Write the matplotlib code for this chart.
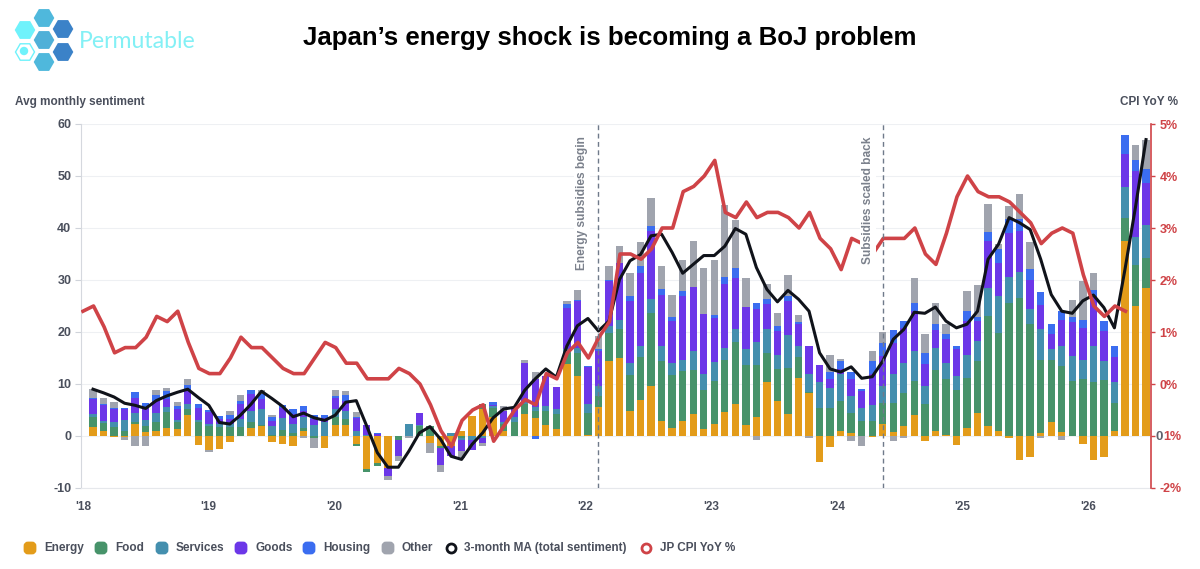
from __future__ import annotations

import matplotlib

matplotlib.use("Agg")

import matplotlib.pyplot as plt
import numpy as np
from matplotlib.patches import FancyBboxPatch, RegularPolygon


FIG_W, FIG_H = 1200, 569
AX_LEFT, AX_RIGHT, AX_TOP, AX_BOTTOM = 81, 1151, 124, 488

year_labels = ["'18", "'19", "'20", "'21", "'22", "'23", "'24", "'25", "'26"]
left_ticks = [-10, 0, 10, 20, 30, 40, 50, 60]
right_ticks = [-2, -1, 0, 1, 2, 3, 4, 5]

energy = [1.7, 1.0, -0.2, -0.2, 2.4, 0.7, 1.0, 1.6, 1.4, 4.0, -1.7, -2.6, -2.5, -1.1, 0, 1.6, 1.9,
          -1.1, -1.5, -1.9, 1.0, 0, -2.3, 2.1, 2.2, -1.6, -6.3, -5.2, -6.1, 0, 0, 0, -1.4, -2.0,
          -2.0, 1.0, 3.9, 5.2, 3.7, 1.0, 0, 4.2, 3.5, 2.1, 1.4, 13.8, 11.5, 0.2, 5.6, 14.4, 15.0,
          4.8, 7.0, 9.6, 2.8, 1.6, 2.9, 4.2, 1.3, 2.4, 4.6, 6.2, 2.2, 3.7, 10.3, 6.7, 4.2, 11.1,
          8.3, -5.0, -2.2, 1.0, 0.5, 0, -0.2, 2.4, 0.8, 2.0, 4.0, -1.0, 1.0, 0.2, -1.8, 1.6, 4.5,
          2.0, 1.0, -0.4, -4.6, -4.0, 0.6, 2.6, 0.8, 0, -1.6, -4.7, -4.0, 1.0, 37.5, 25.0, 28.5]
food = [1.9, 1.5, 1.7, 1.0, 0.2, 1.2, 1.6, 3.0, 1.2, 1.2, 2.6, 1.9, 1.7, 1.8, 1.8, 1.1, 0.2,
        0.1, 1.2, 0.6, 0.6, -0.4, 0, 1.6, 1.0, -0.4, -0.7, -0.5, 0, -0.8, 0, 1.9, 1.9, -0.3,
        0, -0.3, 0, 1.0, 1.6, 1.3, 2.6, 1.9, 1.3, 2.7, 2.8, 2.2, 4.4, 4.3, 2.1, 5.5, 5.5,
        6.9, 8.2, 14.1, 11.6, 10.1, 9.6, 8.5, 7.5, 8.2, 10.1, 11.9, 11.4, 9.9, 5.6, 6.2, 8.9, 4.0,
        0.1, 5.3, 5.3, 5.7, 4.0, 2.9, 2.9, 4.0, 5.6, 6.2, 6.6, 6.2, 11.6, 10.7, 8.8, 9.6, 9.9,
        21.0, 18.9, 25.6, 26.6, 21.5, 14.1, 12.1, 12.7, 10.6, 10.9, 10.4, 10.8, 5.4, 4.5, 7.8, 5.8]
services = [0.6, 0.4, 0.9, 2.1, 1.9, 1.2, 1.9, 0.9, 0.5, 0.9, 0.5, 0.5, 0.6, 0.5, 1.4, 2.1, 3.1,
            1.8, 2.3, 1.7, 2.1, 2.1, 2.6, 1.5, 1.6, 1.0, 0.1, 0, 0, 0, 2.4, 0.3, 0, 0,
            0.6, -0.4, -0.8, -0.4, 0.4, 0.3, 1.1, 0.4, 0.7, 1.0, 1.0, 0.7, 1.1, 1.6, 1.9, 1.3, 1.9,
            2.4, 2.1, 2.7, 2.9, 2.4, 2.2, 3.6, 3.2, 3.6, 2.2, 2.4, 3.1, 4.5, 4.6, 2.6, 6.3, 2.3,
            3.6, 5.0, 4.0, 5.2, 3.2, 2.5, 3.1, 3.2, 5.6, 5.9, 5.7, 3.4, 4.4, 3.2, 2.7, 4.4, 3.9,
            5.5, 7.0, 5.0, 5.0, 3.0, 5.9, 2.1, 3.8, 4.8, 3.7, 7.0, 3.6, 4.0, 5.8, 5.5, 6.3]
goods = [2.9, 3.0, 2.6, 2.1, 2.9, 2.2, 2.3, 1.7, 2.1, 2.8, 2.3, 2.3, 0.9, 0.9, 2.9, 3.3, 1.9,
         1.0, 1.9, 1.9, 1.1, 1.1, 0.8, 2.1, 2.0, 2.5, 2.1, 0.4, -1.6, -3.1, 0, 2.2, 0, -3.3,
         -1.9, -2.2, -1.8, -0.9, 0.3, 2.2, 1.5, 7.5, 5.5, 5.8, 4.2, 8.0, 9.0, 7.2, 6.7, 8.6, 10.9,
         11.9, 14.0, 13.0, 9.9, 8.0, 12.2, 12.4, 11.5, 8.4, 12.3, 9.8, 8.1, 6.3, 4.8, 4.7, 6.6, 4.2,
         5.4, 3.3, 1.7, 1.0, 3.2, 3.3, 5.9, 5.8, 5.9, 6.6, 7.7, 4.2, 3.3, 4.6, 5.2, 6.5, 3.8,
         9.0, 6.3, 8.4, 7.8, 5.5, 4.5, 2.9, 5.0, 6.5, 6.2, 9.5, 5.8, 4.8, 6.4, 12.7, 8.0]
housing = [0.2, 0.2, 0.2, 0.2, 1.0, 1.1, 1.1, 1.5, 0.5, 0.9, 0.8, 0.3, 0.7, 0.8, 0.7, 0.7, 1.0,
           0.8, 0.5, 1.0, 0.9, 0.9, 0.6, 0.4, 1.0, 0.2, 0, 0.2, 0, 0, 0, 0, 0, 0,
           0, 0, 0, 0, 0.6, 0, 0, 0, -0.6, 0, 0, 0.6, 0.2, 0.2, 0.5, 0.2, 0,
           1.0, 1.4, 0.9, 1.0, 0.7, 0.9, 0, 0, 0.6, 1.4, 2.1, 0.1, 1.2, 1.1, 1.0, 0.9, 0.3,
           0, 0, 1.3, 1.5, 1.4, 0.3, 2.5, 2.5, 2.4, 1.4, 1.6, 2.2, 1.2, 0.9, 0.6, 1.9, 0.8,
           1.8, 2.7, 2.7, 2.3, 2.2, 2.5, 1.9, 1.7, 0.9, 1.6, 1.2, 2.0, 2.1, 3.6, 2.0, 2.7]
other = [1.7, 1.2, 1.2, -0.5, -1.9, -2.0, 0.9, 0.5, 0.9, 1.2, 0, -0.4, 0, 0.8, 1.1, 0, 0.8,
         0.4, 0, 0, -0.3, -2.0, 0, 1.1, 0.8, 0.9, 0, 0, -0.8, -0.9, -0.4, 0, -1.8, -1.4,
         0, -1.3, 0, -0.6, 0, 0.9, 0.3, 0.6, 1.3, 0, 0, 0.7, 1.8, 0, 2.4, 2.7, 3.2,
         4.4, 4.7, 5.5, 4.5, 4.4, 6.0, 8.8, 8.9, 10.6, 13.8, 9.1, 5.4, -0.8, 2.8, 2.4, 4.1, 1.4,
         -0.4, 0, 3.2, 0.5, -1.0, -1.9, 1.9, 2.1, -1.0, -0.4, 4.7, 3.7, 4.1, 2.0, 0, 3.9, 6.1,
         5.4, 1.0, 2.5, 4.8, 5.2, -0.3, 0, -0.8, 3.3, 7.4, 3.2, 0, 0, 0, 3.0, 5.7]
ma_3m = [9.0, 8.3, 7.5, 6.3, 5.9, 5.3, 6.8, 7.7, 8.4, 9.0, 7.4, 5.9, 2.6, 2.3, 4.0, 6.1, 8.6,
         7.2, 5.7, 3.7, 4.4, 3.5, 3.0, 4.0, 6.5, 6.8, 1.9, -3.2, -6.0, -6.0, -2.9, 0.6, 1.8, -0.6,
         -3.9, -4.5, -1.6, 0.6, 3.5, 5.2, 5.5, 8.8, 11.0, 12.9, 11.3, 17.3, 21.2, 22.6, 20.2, 22.1, 30.1,
         33.7, 34.9, 38.5, 38.8, 35.3, 31.3, 33.0, 34.7, 34.7, 36.5, 39.9, 38.8, 32.4, 28.2, 25.8, 28.0, 26.3,
         24.0, 16.0, 12.9, 12.3, 13.3, 11.1, 11.4, 14.4, 18.6, 20.5, 23.8, 23.6, 24.8, 22.1, 20.8, 21.5, 24.0,
         34.0, 36.9, 42.0, 41.0, 39.7, 34.0, 27.2, 24.0, 23.6, 26.0, 27.1, 24.7, 20.8, 32.0, 44.0, 57.0]
jp_cpi = [1.4, 1.5, 1.1, 0.6, 0.7, 0.7, 0.9, 1.3, 1.2, 1.4, 0.8, 0.3, 0.2, 0.2, 0.5, 0.9, 0.7,
          0.7, 0.5, 0.3, 0.2, 0.2, 0.5, 0.8, 0.7, 0.4, 0.4, 0.1, 0.1, 0.1, 0.3, 0.2, 0.0, -0.4,
          -0.9, -1.2, -0.7, -0.5, -0.4, -1.1, -0.8, -0.5, -0.3, -0.4, 0.2, 0.1, 0.6, 0.8, 0.5, 0.9, 1.2,
          2.5, 2.5, 2.4, 2.6, 3.0, 3.0, 3.7, 3.8, 4.0, 4.3, 3.3, 3.2, 3.5, 3.2, 3.3, 3.3, 3.2,
          3.0, 3.3, 2.8, 2.6, 2.2, 2.8, 2.7, 2.5, 2.8, 2.8, 2.8, 3.0, 2.5, 2.3, 2.9, 3.6, 4.0,
          3.7, 3.6, 3.6, 3.5, 3.3, 3.1, 2.7, 2.9, 3.0, 2.9, 2.1, 1.5, 1.3, 1.5, 1.4]

COLORS = {
    "Energy": "#e39c1a",
    "Food": "#47936a",
    "Services": "#448fae",
    "Goods": "#6c37e8",
    "Housing": "#3b6df0",
    "Other": "#a0a4ae",
}
RED = "#cf4347"
SLATE = "#4a4f5c"
TEXT_FONT = ["Liberation Sans", "DejaVu Sans"]


def add_header(overlay) -> None:
    hexes = [
        (44, 18, "#4fb8dc"), (25, 30, "#6ff2fb"), (63, 29, "#3b82c8"), (44, 40, "#4fb0d8"),
        (63, 52, "#3b82c8"), (44, 62, "#4fb8dc"),
    ]
    for x, y, colour in hexes:
        overlay.add_patch(RegularPolygon((x, y), 6, radius=10.3, orientation=np.pi / 6,
                                         facecolor=colour, edgecolor="none"))
    overlay.add_patch(RegularPolygon((25, 52), 6, radius=9.5, orientation=np.pi / 6,
                                     facecolor="white", edgecolor="#6ff2fb", linewidth=1))
    overlay.add_patch(plt.Circle((24, 51), 3.5, color="#6ff2fb"))
    overlay.text(79, 41, "Permutable", fontsize=16.6, color="#83f0f5", family="Lato",
                 ha="left", va="center")
    overlay.text(610, 38, "Japan\u2019s energy shock is becoming a BoJ problem", fontsize=18.65,
                 fontweight="bold", family=TEXT_FONT, ha="center", va="center", color="black")
    overlay.text(15, 102, "Avg monthly sentiment", fontsize=8.5, fontweight="bold", color=SLATE,
                 family=TEXT_FONT, ha="left", va="center")
    overlay.text(1178, 102, "CPI YoY %", fontsize=8.5, fontweight="bold", color=SLATE,
                 family=TEXT_FONT, ha="right", va="center")
    # the source has a stray grey 0 where the minus of -1% should be
    overlay.text(1155, 436.5, "0", fontsize=9.5, fontweight="bold", color="#5d626e",
                 family=TEXT_FONT, ha="left", va="center")
    overlay.text(1163, 436.5, "1%", fontsize=9, fontweight="bold", color=RED,
                 family=TEXT_FONT, ha="left", va="center")


def add_legend(overlay) -> None:
    y = 548
    for (name, colour), x in zip(COLORS.items(), [23, 94, 155, 234, 302, 381]):
        overlay.add_patch(FancyBboxPatch((x + 2, y - 5), 10, 10, boxstyle="round,pad=0,rounding_size=3",
                                         facecolor=colour, edgecolor=colour, linewidth=2))
        overlay.text(x + 21, y, name, fontsize=8.5, fontweight="bold", color=SLATE,
                     family=TEXT_FONT, ha="left", va="center")
    overlay.plot([451], [y], marker="o", ms=6.5, mfc="white", mec="#10131a", mew=2)
    overlay.text(464, y, "3-month MA (total sentiment)", fontsize=8.5, fontweight="bold", color=SLATE,
                 family=TEXT_FONT, ha="left", va="center")
    overlay.plot([646], [y], marker="o", ms=6.5, mfc="white", mec=RED, mew=2)
    overlay.text(660, y, "JP CPI YoY %", fontsize=8.5, fontweight="bold", color=SLATE,
                 family=TEXT_FONT, ha="left", va="center")


def main() -> None:
    figure = plt.figure(figsize=(FIG_W / 100, FIG_H / 100), dpi=100)
    axis = figure.add_axes([AX_LEFT / FIG_W, 1 - AX_BOTTOM / FIG_H,
                            (AX_RIGHT - AX_LEFT) / FIG_W, (AX_BOTTOM - AX_TOP) / FIG_H])

    months = np.arange(len(energy))
    pos_bottom = np.zeros(len(energy))
    neg_bottom = np.zeros(len(energy))
    series = [energy, food, services, goods, housing, other]
    for name, values in zip(COLORS, series):
        values = np.asarray(values, dtype=float)
        bottoms = np.where(values >= 0, pos_bottom, neg_bottom)
        axis.bar(months, values, bottom=bottoms, width=0.7, color=COLORS[name], linewidth=0, zorder=2)
        pos_bottom += np.clip(values, 0, None)
        neg_bottom += np.clip(values, None, 0)

    axis.plot(months, ma_3m, color="#10131a", linewidth=2.2, zorder=4, solid_joinstyle="round")

    axis.set_xlim((AX_LEFT - 93) / 10.53, (AX_RIGHT - 93) / 10.53)
    axis.set_ylim(-10, 60)
    axis.set_yticks(left_ticks, labels=[str(tick) for tick in left_ticks])
    axis.set_xticks(-0.95 + 11.93 * np.arange(len(year_labels)), labels=year_labels)
    axis.tick_params(axis="x", length=0, pad=9, labelsize=8.5, labelcolor=SLATE)
    axis.tick_params(axis="y", length=4, width=0.8, color="#cfd3da", pad=3, labelsize=9, labelcolor=SLATE)
    for label in axis.get_xticklabels() + axis.get_yticklabels():
        label.set_fontweight("bold")
        label.set_family(TEXT_FONT)
    axis.grid(axis="y", color="#eef0f3", linewidth=0.8, zorder=0)
    axis.set_axisbelow(True)
    for side in ("top", "right"):
        axis.spines[side].set_visible(False)
    axis.spines["left"].set_color("#d5d8de")
    axis.spines["bottom"].set_color("#e6e8ec")

    # the CPI axes sits above the sentiment axes so the red line crosses bars and MA
    cpi_axis = axis.twinx()
    cpi_axis.set_ylim(-2, 5)
    # -1 is left blank here, add_header prints what the source shows there
    cpi_axis.set_yticks(right_ticks, labels=["" if tick == -1 else f"{tick}%" for tick in right_ticks])
    cpi_axis.tick_params(axis="y", length=3, width=1, color=RED, pad=3, labelsize=9, labelcolor=RED)
    for label in cpi_axis.get_yticklabels():
        label.set_fontweight("bold")
        label.set_family(TEXT_FONT)
    for side in ("top", "left", "bottom"):
        cpi_axis.spines[side].set_visible(False)
    cpi_axis.spines["right"].set_color(RED)
    cpi_axis.spines["right"].set_linewidth(1.2)
    # CPI is drawn one slot to the left of the bars, same as the source chart
    cpi_axis.plot(np.arange(len(jp_cpi)) - 0.95, jp_cpi, color=RED, linewidth=2.6, zorder=3,
                  solid_joinstyle="round")

    # dashed markers and their labels go on top of everything
    for month, offset, note in [(48, 1.6, "Energy subsidies begin"), (75, 1.4, "Subsidies scaled back")]:
        cpi_axis.axvline(month, color="#6f7a8a", linewidth=1, linestyle=(0, (3.5, 2.5)), zorder=6)
        cpi_axis.text(month - offset, 4.76, note, rotation=90, fontsize=8.6, fontweight="bold", color="#7b818c",
                      family=TEXT_FONT, ha="center", va="top", zorder=5,
                      bbox=dict(facecolor="white", edgecolor="none", pad=1.5))

    overlay = figure.add_axes([0, 0, 1, 1], zorder=5)
    overlay.set_xlim(0, FIG_W)
    overlay.set_ylim(FIG_H, 0)
    overlay.axis("off")
    add_header(overlay)
    add_legend(overlay)

    figure.savefig("out.png", dpi=100, facecolor="white")
    plt.close(figure)


if __name__ == "__main__":
    main()
